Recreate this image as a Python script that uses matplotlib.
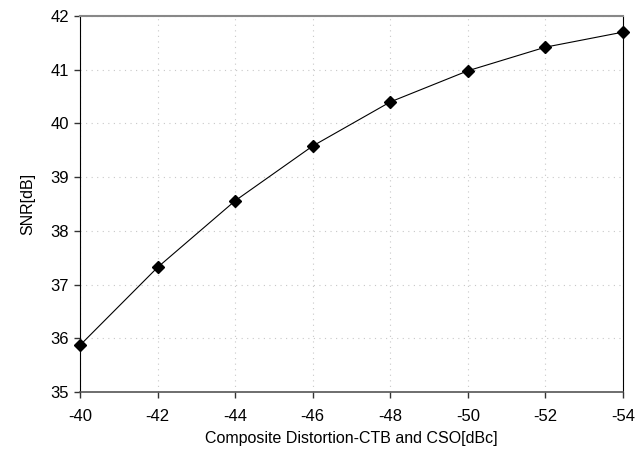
import matplotlib
matplotlib.use('Agg')
import matplotlib.pyplot as plt

distortion = [-40, -42, -44, -46, -48, -50, -52, -54]
snr = [35.87, 37.32, 38.56, 39.58, 40.40, 40.98, 41.42, 41.70]
xticks = [-40, -42, -44, -46, -48, -50, -52, -54]
yticks = [35, 36, 37, 38, 39, 40, 41, 42]

plt.rcParams['font.family'] = ['Liberation Sans', 'DejaVu Sans']
plt.rcParams['axes.unicode_minus'] = False

fig = plt.figure(figsize=(6.42, 4.62), dpi=100)
ax = fig.add_axes([80/642, 1-392/462, 543/642, 376/462])

ax.plot(distortion, snr, color='black', lw=0.8, marker='D', ms=6.5,
        mfc='black', mec='black', clip_on=False, zorder=5)

ax.set_xlim(-40, -54)
ax.set_ylim(35, 42)
ax.set_xticks(xticks)
ax.set_yticks(yticks)
ax.grid(True, color='#c8c8c8', linestyle=(0, (1, 4)), lw=0.8)
ax.tick_params(labelsize=12, direction='out', length=4, width=1, color='#333333', pad=8)
ax.tick_params(axis='y', pad=4)

ax.spines['top'].set_color('#888888')
ax.spines['top'].set_linewidth(1.5)
ax.spines['bottom'].set_color('#555555')
ax.spines['bottom'].set_linewidth(1.2)
ax.spines['left'].set_color('black')
ax.spines['right'].set_color('black')

ax.set_xlabel('Composite Distortion-CTB and CSO[dBc]', fontsize=11.5, labelpad=5)
ax.set_ylabel('SNR[dB]', fontsize=11.5, labelpad=11)

fig.savefig('out.png', dpi=100)
